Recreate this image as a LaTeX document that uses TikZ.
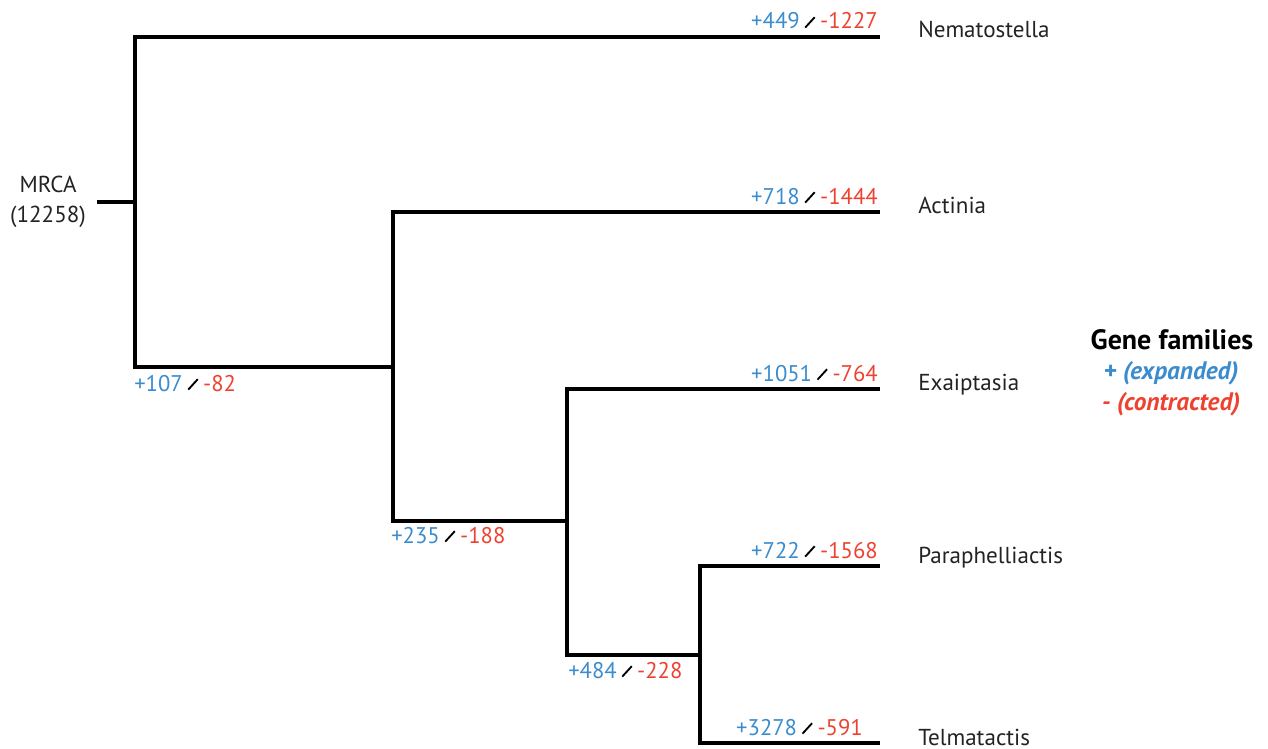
\documentclass[tikz,border=0pt]{standalone}
\usepackage{fontspec}
\setmainfont{PT Sans}
\definecolor{gblue}{RGB}{58,140,206}
\definecolor{gred}{RGB}{238,66,48}
\definecolor{gtext}{RGB}{35,35,35}
\newcommand\gsep{\hspace{0.2em}\tikz[baseline=0pt]\draw[line width=1.4pt,black] (0,0.06em) -- (0.42em,0.52em);\hspace{0.2em}}
\newcommand\gl[2]{\textcolor{gblue}{+#1}\gsep\textcolor{gred}{-#2}}
\begin{document}
\begin{tikzpicture}[x=0.75pt,y=-0.75pt,
  branch/.style={line width=2.3pt,line join=miter,line cap=butt},
  leaf/.style={anchor=base west,inner sep=0pt,text=gtext,font=\fontsize{17.3}{20}\selectfont},
  gainabove/.style={anchor=base east,inner sep=0pt,font=\fontsize{17}{20}\selectfont},
  gainbelow/.style={anchor=base west,inner sep=0pt,font=\fontsize{17}{20}\selectfont},
  legend/.style={inner sep=0pt,anchor=base}]
\useasboundingbox (0,0) rectangle (1268,749);
% coordinates
\coordinate (stub) at (97,202);
\coordinate (n0) at (135,202);
\coordinate (nemC) at (135,37);
\coordinate (lowC) at (135,367);
\coordinate (n1) at (393,367);
\coordinate (actC) at (393,212);
\coordinate (n2C) at (393,521);
\coordinate (n2) at (567,521);
\coordinate (exaC) at (567,389);
\coordinate (n3C) at (567,655);
\coordinate (n3) at (700,655);
\coordinate (parC) at (700,566);
\coordinate (telC) at (700,743);
\coordinate (nemE) at (880,37);
\coordinate (actE) at (880,212);
\coordinate (exaE) at (880,389);
\coordinate (parE) at (880,566);
\coordinate (telE) at (880,743);
% branches
\draw[branch] (stub) -- (n0);
\draw[branch] (nemE) -- (nemC) -- (lowC) -- (n1);
\draw[branch] (actE) -- (actC) -- (n2C) -- (n2);
\draw[branch] (exaE) -- (exaC) -- (n3C) -- (n3);
\draw[branch] (parE) -- (parC) -- (telC) -- (telE);
% root label
\node[align=center,inner sep=0pt,text=gtext,font=\fontsize{17.3}{22.5}\selectfont] (mrca) at (48,202) {MRCA\\(12258)};
% leaf names
\node[leaf] (nem) at (918,38) {Nematostella};
\node[leaf] (act) at (918,213) {Actinia};
\node[leaf] (exa) at (918,390) {Exaiptasia};
\node[leaf] (par) at (918,563) {Paraphelliactis};
\node[leaf] (tel) at (918,745) {Telmatactis};
% gain/loss labels
\node[gainabove] (gnem) at (878,29) {\gl{449}{1227}};
\node[gainabove] (gact) at (878,204) {\gl{718}{1444}};
\node[gainabove] (gexa) at (878,381) {\gl{1051}{764}};
\node[gainabove] (gpar) at (878,558) {\gl{722}{1568}};
\node[gainabove] (gtel) at (863,735) {\gl{3278}{591}};
\node[gainbelow] (g1) at (134,391) {\gl{107}{82}};
\node[gainbelow] (g2) at (391,543) {\gl{235}{188}};
\node[gainbelow] (g3) at (568,678) {\gl{484}{228}};
% legend
\node[legend,font=\bfseries\fontsize{21}{24}\selectfont] (lt) at (1172,349) {Gene families};
\node[legend,font=\bfseries\itshape\fontsize{19}{22}\selectfont,text=gblue] (le) at (1171,379) {+ (expanded)};
\node[legend,font=\bfseries\itshape\fontsize{19}{22}\selectfont,text=gred] (lc) at (1171,410) {- (contracted)};
\end{tikzpicture}
\end{document}
